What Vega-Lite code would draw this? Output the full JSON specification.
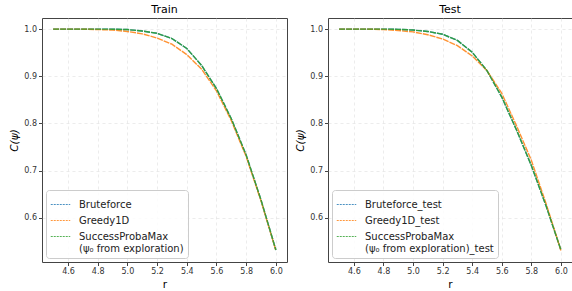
{
  "$schema": "https://vega.github.io/schema/vega-lite/v6.json",
  "padding": {"left": 9, "top": 3, "right": 0, "bottom": 3},
  "background": "white",
  "spacing": 7,
  "datasets": {
    "train": [
      {"r": 4.5, "C": 1.0, "s": "Bruteforce"}, {"r": 4.6, "C": 1.0, "s": "Bruteforce"}, {"r": 4.7, "C": 1.0, "s": "Bruteforce"}, {"r": 4.8, "C": 1.0, "s": "Bruteforce"}, {"r": 4.9, "C": 0.9998, "s": "Bruteforce"}, {"r": 5.0, "C": 0.999, "s": "Bruteforce"}, {"r": 5.1, "C": 0.996, "s": "Bruteforce"}, {"r": 5.2, "C": 0.991, "s": "Bruteforce"}, {"r": 5.3, "C": 0.98, "s": "Bruteforce"}, {"r": 5.4, "C": 0.959, "s": "Bruteforce"}, {"r": 5.5, "C": 0.923, "s": "Bruteforce"}, {"r": 5.6, "C": 0.874, "s": "Bruteforce"}, {"r": 5.7, "C": 0.81, "s": "Bruteforce"}, {"r": 5.8, "C": 0.733, "s": "Bruteforce"}, {"r": 5.9, "C": 0.638, "s": "Bruteforce"}, {"r": 6.0, "C": 0.532, "s": "Bruteforce"},
      {"r": 4.5, "C": 1.0, "s": "Greedy1D"}, {"r": 4.6, "C": 1.0, "s": "Greedy1D"}, {"r": 4.7, "C": 0.9998, "s": "Greedy1D"}, {"r": 4.8, "C": 0.999, "s": "Greedy1D"}, {"r": 4.9, "C": 0.998, "s": "Greedy1D"}, {"r": 5.0, "C": 0.995, "s": "Greedy1D"}, {"r": 5.1, "C": 0.99, "s": "Greedy1D"}, {"r": 5.2, "C": 0.981, "s": "Greedy1D"}, {"r": 5.3, "C": 0.968, "s": "Greedy1D"}, {"r": 5.4, "C": 0.946, "s": "Greedy1D"}, {"r": 5.5, "C": 0.915, "s": "Greedy1D"}, {"r": 5.6, "C": 0.869, "s": "Greedy1D"}, {"r": 5.7, "C": 0.806, "s": "Greedy1D"}, {"r": 5.8, "C": 0.73, "s": "Greedy1D"}, {"r": 5.9, "C": 0.636, "s": "Greedy1D"}, {"r": 6.0, "C": 0.531, "s": "Greedy1D"},
      {"r": 4.5, "C": 1.0, "s": "SuccessProbaMax|(ψ₀ from exploration)"}, {"r": 4.6, "C": 1.0, "s": "SuccessProbaMax|(ψ₀ from exploration)"}, {"r": 4.7, "C": 1.0, "s": "SuccessProbaMax|(ψ₀ from exploration)"}, {"r": 4.8, "C": 1.0, "s": "SuccessProbaMax|(ψ₀ from exploration)"}, {"r": 4.9, "C": 0.9998, "s": "SuccessProbaMax|(ψ₀ from exploration)"}, {"r": 5.0, "C": 0.999, "s": "SuccessProbaMax|(ψ₀ from exploration)"}, {"r": 5.1, "C": 0.996, "s": "SuccessProbaMax|(ψ₀ from exploration)"}, {"r": 5.2, "C": 0.991, "s": "SuccessProbaMax|(ψ₀ from exploration)"}, {"r": 5.3, "C": 0.98, "s": "SuccessProbaMax|(ψ₀ from exploration)"}, {"r": 5.4, "C": 0.959, "s": "SuccessProbaMax|(ψ₀ from exploration)"}, {"r": 5.5, "C": 0.923, "s": "SuccessProbaMax|(ψ₀ from exploration)"}, {"r": 5.6, "C": 0.874, "s": "SuccessProbaMax|(ψ₀ from exploration)"}, {"r": 5.7, "C": 0.81, "s": "SuccessProbaMax|(ψ₀ from exploration)"}, {"r": 5.8, "C": 0.733, "s": "SuccessProbaMax|(ψ₀ from exploration)"}, {"r": 5.9, "C": 0.638, "s": "SuccessProbaMax|(ψ₀ from exploration)"}, {"r": 6.0, "C": 0.532, "s": "SuccessProbaMax|(ψ₀ from exploration)"}
    ],
    "test": [
      {"r": 4.5, "C": 1.0, "s": "Bruteforce_test"}, {"r": 4.6, "C": 1.0, "s": "Bruteforce_test"}, {"r": 4.7, "C": 1.0, "s": "Bruteforce_test"}, {"r": 4.8, "C": 1.0, "s": "Bruteforce_test"}, {"r": 4.9, "C": 0.9995, "s": "Bruteforce_test"}, {"r": 5.0, "C": 0.998, "s": "Bruteforce_test"}, {"r": 5.1, "C": 0.995, "s": "Bruteforce_test"}, {"r": 5.2, "C": 0.989, "s": "Bruteforce_test"}, {"r": 5.3, "C": 0.976, "s": "Bruteforce_test"}, {"r": 5.4, "C": 0.951, "s": "Bruteforce_test"}, {"r": 5.5, "C": 0.912, "s": "Bruteforce_test"}, {"r": 5.6, "C": 0.856, "s": "Bruteforce_test"}, {"r": 5.7, "C": 0.786, "s": "Bruteforce_test"}, {"r": 5.8, "C": 0.711, "s": "Bruteforce_test"}, {"r": 5.9, "C": 0.625, "s": "Bruteforce_test"}, {"r": 6.0, "C": 0.532, "s": "Bruteforce_test"},
      {"r": 4.5, "C": 1.0, "s": "Greedy1D_test"}, {"r": 4.6, "C": 1.0, "s": "Greedy1D_test"}, {"r": 4.7, "C": 0.9998, "s": "Greedy1D_test"}, {"r": 4.8, "C": 0.999, "s": "Greedy1D_test"}, {"r": 4.9, "C": 0.997, "s": "Greedy1D_test"}, {"r": 5.0, "C": 0.994, "s": "Greedy1D_test"}, {"r": 5.1, "C": 0.988, "s": "Greedy1D_test"}, {"r": 5.2, "C": 0.979, "s": "Greedy1D_test"}, {"r": 5.3, "C": 0.965, "s": "Greedy1D_test"}, {"r": 5.4, "C": 0.943, "s": "Greedy1D_test"}, {"r": 5.5, "C": 0.912, "s": "Greedy1D_test"}, {"r": 5.6, "C": 0.864, "s": "Greedy1D_test"}, {"r": 5.7, "C": 0.795, "s": "Greedy1D_test"}, {"r": 5.8, "C": 0.722, "s": "Greedy1D_test"}, {"r": 5.9, "C": 0.63, "s": "Greedy1D_test"}, {"r": 6.0, "C": 0.531, "s": "Greedy1D_test"},
      {"r": 4.5, "C": 1.0, "s": "SuccessProbaMax|(ψ₀ from exploration)_test"}, {"r": 4.6, "C": 1.0, "s": "SuccessProbaMax|(ψ₀ from exploration)_test"}, {"r": 4.7, "C": 1.0, "s": "SuccessProbaMax|(ψ₀ from exploration)_test"}, {"r": 4.8, "C": 1.0, "s": "SuccessProbaMax|(ψ₀ from exploration)_test"}, {"r": 4.9, "C": 0.9995, "s": "SuccessProbaMax|(ψ₀ from exploration)_test"}, {"r": 5.0, "C": 0.998, "s": "SuccessProbaMax|(ψ₀ from exploration)_test"}, {"r": 5.1, "C": 0.995, "s": "SuccessProbaMax|(ψ₀ from exploration)_test"}, {"r": 5.2, "C": 0.989, "s": "SuccessProbaMax|(ψ₀ from exploration)_test"}, {"r": 5.3, "C": 0.976, "s": "SuccessProbaMax|(ψ₀ from exploration)_test"}, {"r": 5.4, "C": 0.951, "s": "SuccessProbaMax|(ψ₀ from exploration)_test"}, {"r": 5.5, "C": 0.912, "s": "SuccessProbaMax|(ψ₀ from exploration)_test"}, {"r": 5.6, "C": 0.856, "s": "SuccessProbaMax|(ψ₀ from exploration)_test"}, {"r": 5.7, "C": 0.786, "s": "SuccessProbaMax|(ψ₀ from exploration)_test"}, {"r": 5.8, "C": 0.711, "s": "SuccessProbaMax|(ψ₀ from exploration)_test"}, {"r": 5.9, "C": 0.625, "s": "SuccessProbaMax|(ψ₀ from exploration)_test"}, {"r": 6.0, "C": 0.532, "s": "SuccessProbaMax|(ψ₀ from exploration)_test"}
    ]
  },
  "hconcat": [
    {
      "width": 245, "height": 244,
      "title": {"text": "Train"},
      "data": {"name": "train"},
      "mark": {"type": "line", "strokeWidth": 1.4, "strokeDash": [6, 1], "opacity": 0.85},
      "encoding": {
        "x": {"field": "r", "type": "quantitative", "title": "r", "scale": {"domain": [4.425, 6.075], "nice": false, "zero": false},
              "axis": {"values": [4.6, 4.8, 5.0, 5.2, 5.4, 5.6, 5.8, 6.0], "format": ".1f"}},
        "y": {"field": "C", "type": "quantitative", "title": "C(ψ)", "scale": {"domain": [0.5065, 1.0235], "nice": false, "zero": false},
              "axis": {"values": [0.6, 0.7, 0.8, 0.9, 1.0], "format": ".1f"}},
        "color": {"field": "s", "type": "nominal",
          "scale": {"domain": ["Bruteforce", "Greedy1D", "SuccessProbaMax|(ψ₀ from exploration)"], "range": ["#1f77b4", "#ff7f0e", "#2ca02c"]},
          "legend": {"title": null, "orient": "bottom-left", "labelExpr": "split(datum.label, '|')"}}
      }
    },
    {
      "width": 244, "height": 244,
      "title": {"text": "Test"},
      "data": {"name": "test"},
      "mark": {"type": "line", "strokeWidth": 1.4, "strokeDash": [6, 1], "opacity": 0.85},
      "encoding": {
        "x": {"field": "r", "type": "quantitative", "title": "r", "scale": {"domain": [4.425, 6.075], "nice": false, "zero": false},
              "axis": {"values": [4.6, 4.8, 5.0, 5.2, 5.4, 5.6, 5.8, 6.0], "format": ".1f"}},
        "y": {"field": "C", "type": "quantitative", "title": "C(ψ)", "scale": {"domain": [0.5065, 1.0235], "nice": false, "zero": false},
              "axis": {"values": [0.6, 0.7, 0.8, 0.9, 1.0], "format": ".1f"}},
        "color": {"field": "s", "type": "nominal",
          "scale": {"domain": ["Bruteforce_test", "Greedy1D_test", "SuccessProbaMax|(ψ₀ from exploration)_test"], "range": ["#1f77b4", "#ff7f0e", "#2ca02c"]},
          "legend": {"title": null, "orient": "bottom-left", "labelExpr": "split(datum.label, '|')"}}
      }
    }
  ],
  "resolve": {"scale": {"color": "independent", "x": "independent", "y": "independent"}, "legend": {"color": "independent"}},
  "config": {
    "font": "DejaVu Sans",
    "view": {"stroke": "#444", "strokeWidth": 1},
    "title": {"fontSize": 11, "fontWeight": "normal", "color": "#000", "offset": 3, "font": "DejaVu Sans"},
    "axis": {
      "labelFontSize": 8, "labelColor": "#333", "tickColor": "#444", "tickSize": 3.5, "domain": false,
      "gridColor": "#ddd", "gridDash": [3, 3], "gridWidth": 0.7, "gridOpacity": 0.8,
      "titleFontSize": 10.5, "titleFontWeight": "normal", "titleColor": "#000", "labelPadding": 2, "titlePadding": 4
    },
    "axisY": {"titleFontStyle": "italic"},
    "legend": {
      "labelFontSize": 10, "labelColor": "#222", "symbolType": "stroke", "symbolSize": 380, "symbolStrokeWidth": 1,
      "symbolDash": [2, 1], "symbolOpacity": 0.8, "strokeColor": "#ccc", "fillColor": "rgba(255,255,255,0.85)", "cornerRadius": 3,
      "padding": 4, "offset": 4, "rowPadding": 0, "labelOffset": 8, "labelLimit": 300
    }
  }
}
